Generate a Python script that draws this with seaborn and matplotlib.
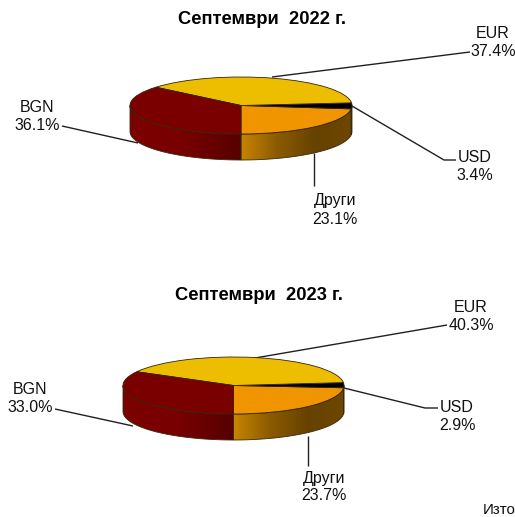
import numpy as np
import matplotlib
matplotlib.use("Agg")
import matplotlib.pyplot as plt
from matplotlib.colors import LinearSegmentedColormap
from matplotlib.patches import Polygon
import seaborn as sns

sns.set_theme(style="white")
plt.rcParams["font.family"] = ["Liberation Sans", "DejaVu Sans"]

# order: counter clockwise from the bottom of the pie
categories = ["Други", "USD", "EUR", "BGN"]
values_2022 = [23.1, 3.4, 37.4, 36.1]
values_2023 = [23.7, 2.9, 40.3, 33.0]
title_2022 = "Септември  2022 г."
title_2023 = "Септември  2023 г."

top_colors = ["#F09400", "#000000", "#EDBE00", "#7A0000"]
wall_colors = [["#C88400", "#8A5A00", "#664200", "#6E4700"], ["#000000", "#000000"],
               ["#A88600", "#A88600"], ["#7C0000", "#780000", "#560000"]]
W, H = 515, 517

fig = plt.figure(figsize=(W / 100, H / 100), dpi=100)
bg = fig.add_axes([0, 0, 1, 1])
bg.set_xlim(0, W)
bg.set_ylim(H, 0)
bg.axis("off")


def pie3d(values, cx, cy, rx, ry, depth):
    ax = fig.add_axes([(cx - rx) / W, 1 - (cy + ry + depth) / H, 2 * rx / W, (2 * ry + depth) / H])
    d = depth / ry
    ax.patch.set_alpha(0)
    ax.axis("off")
    shares = np.array(values) / sum(values) * 360
    starts = 270 + np.concatenate([[0], np.cumsum(shares)[:-1]])
    # side wall, only the part of each slice that faces the viewer
    for a, s, cols in zip(starts, shares, wall_colors):
        for low, high in [(180, 360), (540, 720)]:
            t0, t1 = max(a, low), min(a + s, high)
            if t1 <= t0:
                continue
            t = np.radians(np.linspace(t0, t1, 80))
            x, y = np.cos(t), np.sin(t)
            pts = np.r_[np.c_[x, y], np.c_[x, y - d][::-1]]
            cmap = LinearSegmentedColormap.from_list("wall", cols)
            im = ax.imshow(np.linspace(0, 1, 256)[None, :], cmap=cmap, aspect="auto", zorder=1,
                           extent=[x.min(), x.max(), -1 - d, 1])
            poly = Polygon(pts, closed=True, fc="none", ec="#3A2A10", lw=0.6, zorder=2, clip_on=False)
            ax.add_patch(poly)
            im.set_clip_path(poly)
    wedges, _ = ax.pie(values, colors=top_colors, startangle=270, counterclock=True,
                       wedgeprops={"edgecolor": "#33230A", "linewidth": 0.6})
    for w in wedges:
        w.set_zorder(3)
    ax.set_aspect("auto")
    ax.set_xlim(-1, 1)
    ax.set_ylim(-1 - d, 1)


pie3d(values_2022, 241, 105.5, 111, 28.5, 26)
pie3d(values_2023, 233.5, 385.5, 110.5, 28.5, 26)

# leader lines
leaders = [
    ([272, 470], [77, 52]),
    ([352, 444, 456], [106, 160, 160]),
    ([138, 62], [143, 126]),
    ([314, 314], [153, 186]),
    ([255, 447], [358, 325]),
    ([344, 425, 438], [388, 408, 408]),
    ([133, 55], [426, 409]),
    ([308, 308], [436, 466]),
]
for lx, ly in leaders:
    bg.plot(lx, ly, color="#202020", lw=1.0, solid_capstyle="butt")

fs = 11.5
bg.text(262, 20, title_2022, ha="center", va="center", fontsize=13.2, fontweight="bold", color="black")
bg.text(258.5, 296, title_2023, ha="center", va="center", fontsize=13.2, fontweight="bold", color="black")

labels = [
    (493, 43, "EUR\n37.4%"),
    (475, 166, "USD\n3.4%"),
    (37, 116, "BGN\n36.1%"),
    (335, 210, "Други\n23.1%"),
    (471, 316, "EUR\n40.3%"),
    (457, 417, "USD\n2.9%"),
    (30, 398, "BGN\n33.0%"),
    (324, 487, "Други\n23.7%"),
]
for lx, ly, s in labels:
    bg.text(lx, ly, s, ha="center", va="center", fontsize=fs, color="#111111", linespacing=1.25)

bg.text(483, 516.5, "Изто", ha="left", va="bottom", fontsize=10.8, color="#111111")

fig.savefig("out.png", dpi=100, facecolor="white")
